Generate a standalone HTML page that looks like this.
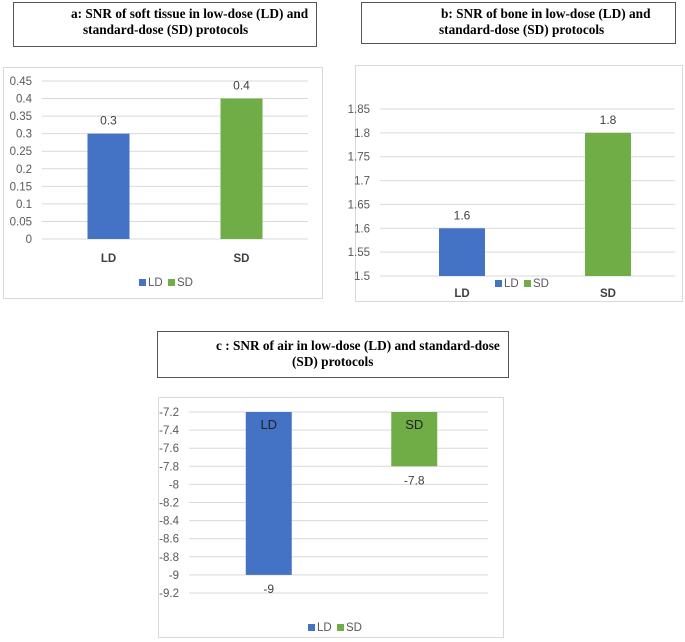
<!DOCTYPE html>
<html><head><meta charset="utf-8"><style>
body{margin:0;background:#fff;width:685px;height:642px;overflow:hidden;font-family:"Liberation Sans",sans-serif}
svg{position:absolute;left:0;top:0}
</style></head><body>
<svg id="s" width="685" height="642">
<g>
<rect x="13.5" y="2.5" width="303" height="44" fill="#fff" stroke="#555"/>
<text x="71" y="18" font-family="Liberation Serif,serif" font-weight="bold" font-size="13.3">a: SNR of soft tissue in low-dose (LD) and</text>
<text x="83" y="34" font-family="Liberation Serif,serif" font-weight="bold" font-size="13.3">standard-dose (SD) protocols</text>
</g>
<g>
<rect x="361.5" y="2.5" width="314" height="41" fill="#fff" stroke="#555"/>
<text x="441" y="18" font-family="Liberation Serif,serif" font-weight="bold" font-size="13.3">b: SNR of bone in low-dose (LD) and</text>
<text x="439" y="34" font-family="Liberation Serif,serif" font-weight="bold" font-size="13.3">standard-dose (SD) protocols</text>
</g>
<g>
<rect x="157.5" y="331.5" width="351" height="46" fill="#fff" stroke="#555"/>
<text x="216" y="350" font-family="Liberation Serif,serif" font-weight="bold" font-size="13.3">c : SNR of air in low-dose (LD) and standard-dose</text>
<text x="292" y="366" font-family="Liberation Serif,serif" font-weight="bold" font-size="13.3">(SD) protocols</text>
</g>
</svg>
<script>
const categories=["LD","SD"];
const valuesA=[0.3,0.4];
const ticksA=["0","0.05","0.1","0.15","0.2","0.25","0.3","0.35","0.4","0.45"];
const valuesB=[1.6,1.8];
const ticksB=["1.5","1.55","1.6","1.65","1.7","1.75","1.8","1.85"];
const valuesC=[-9,-7.8];
const ticksC=["-9.2","-9","-8.8","-8.6","-8.4","-8.2","-8","-7.8","-7.6","-7.4","-7.2"];
const colors=["#4472c4","#70ad47"];
const NS="http://www.w3.org/2000/svg";
const svg=document.getElementById('s');
function mk(t,a,p){const e=document.createElementNS(NS,t);for(const k in a)e.setAttribute(k,a[k]);(p||svg).appendChild(e);return e;}
function chart(cfg){
  const g=mk('g',{});
  
  
  mk('rect',{x:cfg.fx+.5,y:cfg.fy+.5,width:cfg.fw,height:cfg.fh,fill:'#fff',stroke:'#d9d9d9'},g);
  const tv=cfg.ticks.map(Number);
  const mn=Math.min(...tv),mx=Math.max(...tv);
  const y=v=>cfg.y1+(mx-v)/(mx-mn)*(cfg.y0-cfg.y1);
  cfg.ticks.forEach(t=>{
    const l=mk('line',{x1:cfg.px0,x2:cfg.px1,y1:y(+t),y2:y(+t),stroke:'#d9d9d9'},g);
    
    
    const tx=mk('text',{x:cfg.px0-10,y:y(+t)+4,'text-anchor':'end','font-size':11.5,fill:'#595959'},g);
    tx.textContent=t;
    
    
  });
  const band=(cfg.bx1-cfg.bx0)/categories.length;
  categories.forEach((c,i)=>{
    const cx=cfg.bx0+band*(i+.5);
    const v=cfg.values[i];
    const b=mk('rect',{x:cx-cfg.bw/2,y:Math.min(y(cfg.base),y(v)),width:cfg.bw,height:Math.abs(y(v)-y(cfg.base)),fill:colors[i]},g);
    
    
    const vl=mk('text',{x:cx,'text-anchor':'middle','font-size':12,fill:'#404040'},g);
    vl.setAttribute('y',cfg.neg?y(v)+18:y(v)-9);
    vl.textContent=String(v);
    
    
    const cl=mk('text',{x:cx,'text-anchor':'middle','font-size':cfg.neg?13:11.5,'font-weight':cfg.neg?'normal':'bold',fill:cfg.neg?'#222':'#404040'},g);
    cl.setAttribute('y',cfg.catY);
    cl.textContent=c;
    
    
  });
  categories.forEach((c,i)=>{
    const lx=cfg.lx+i*29;
    const sq=mk('rect',{x:lx,y:cfg.ly-7,width:7,height:7,fill:colors[i]},g);
    
    
    const lt=mk('text',{x:lx+9,y:cfg.ly,'font-size':11.5,fill:'#595959'},g);
    lt.textContent=c;
    
    
  });
}
chart({name:'chart-a',fx:3,fy:67,fw:319,fh:231,values:valuesA,ticks:ticksA,base:0,y0:239,y1:81,px0:42,px1:308,bx0:42,bx1:308,bw:42,catY:262,lx:139,ly:286});
chart({name:'chart-b',fx:355,fy:65,fw:327,fh:236,values:valuesB,ticks:ticksB,base:1.5,y0:276,y1:109,px0:380,px1:675,bx0:389,bx1:681,bw:46,catY:297,lx:495,ly:287});
chart({name:'chart-c',fx:158,fy:397,fw:345,fh:240,values:valuesC,ticks:ticksC,base:-7.2,y0:593,y1:412,px0:189,px1:488,bx0:196,bx1:487,bw:46,catY:429,neg:true,lx:308,ly:631});
</script>
</body></html>
